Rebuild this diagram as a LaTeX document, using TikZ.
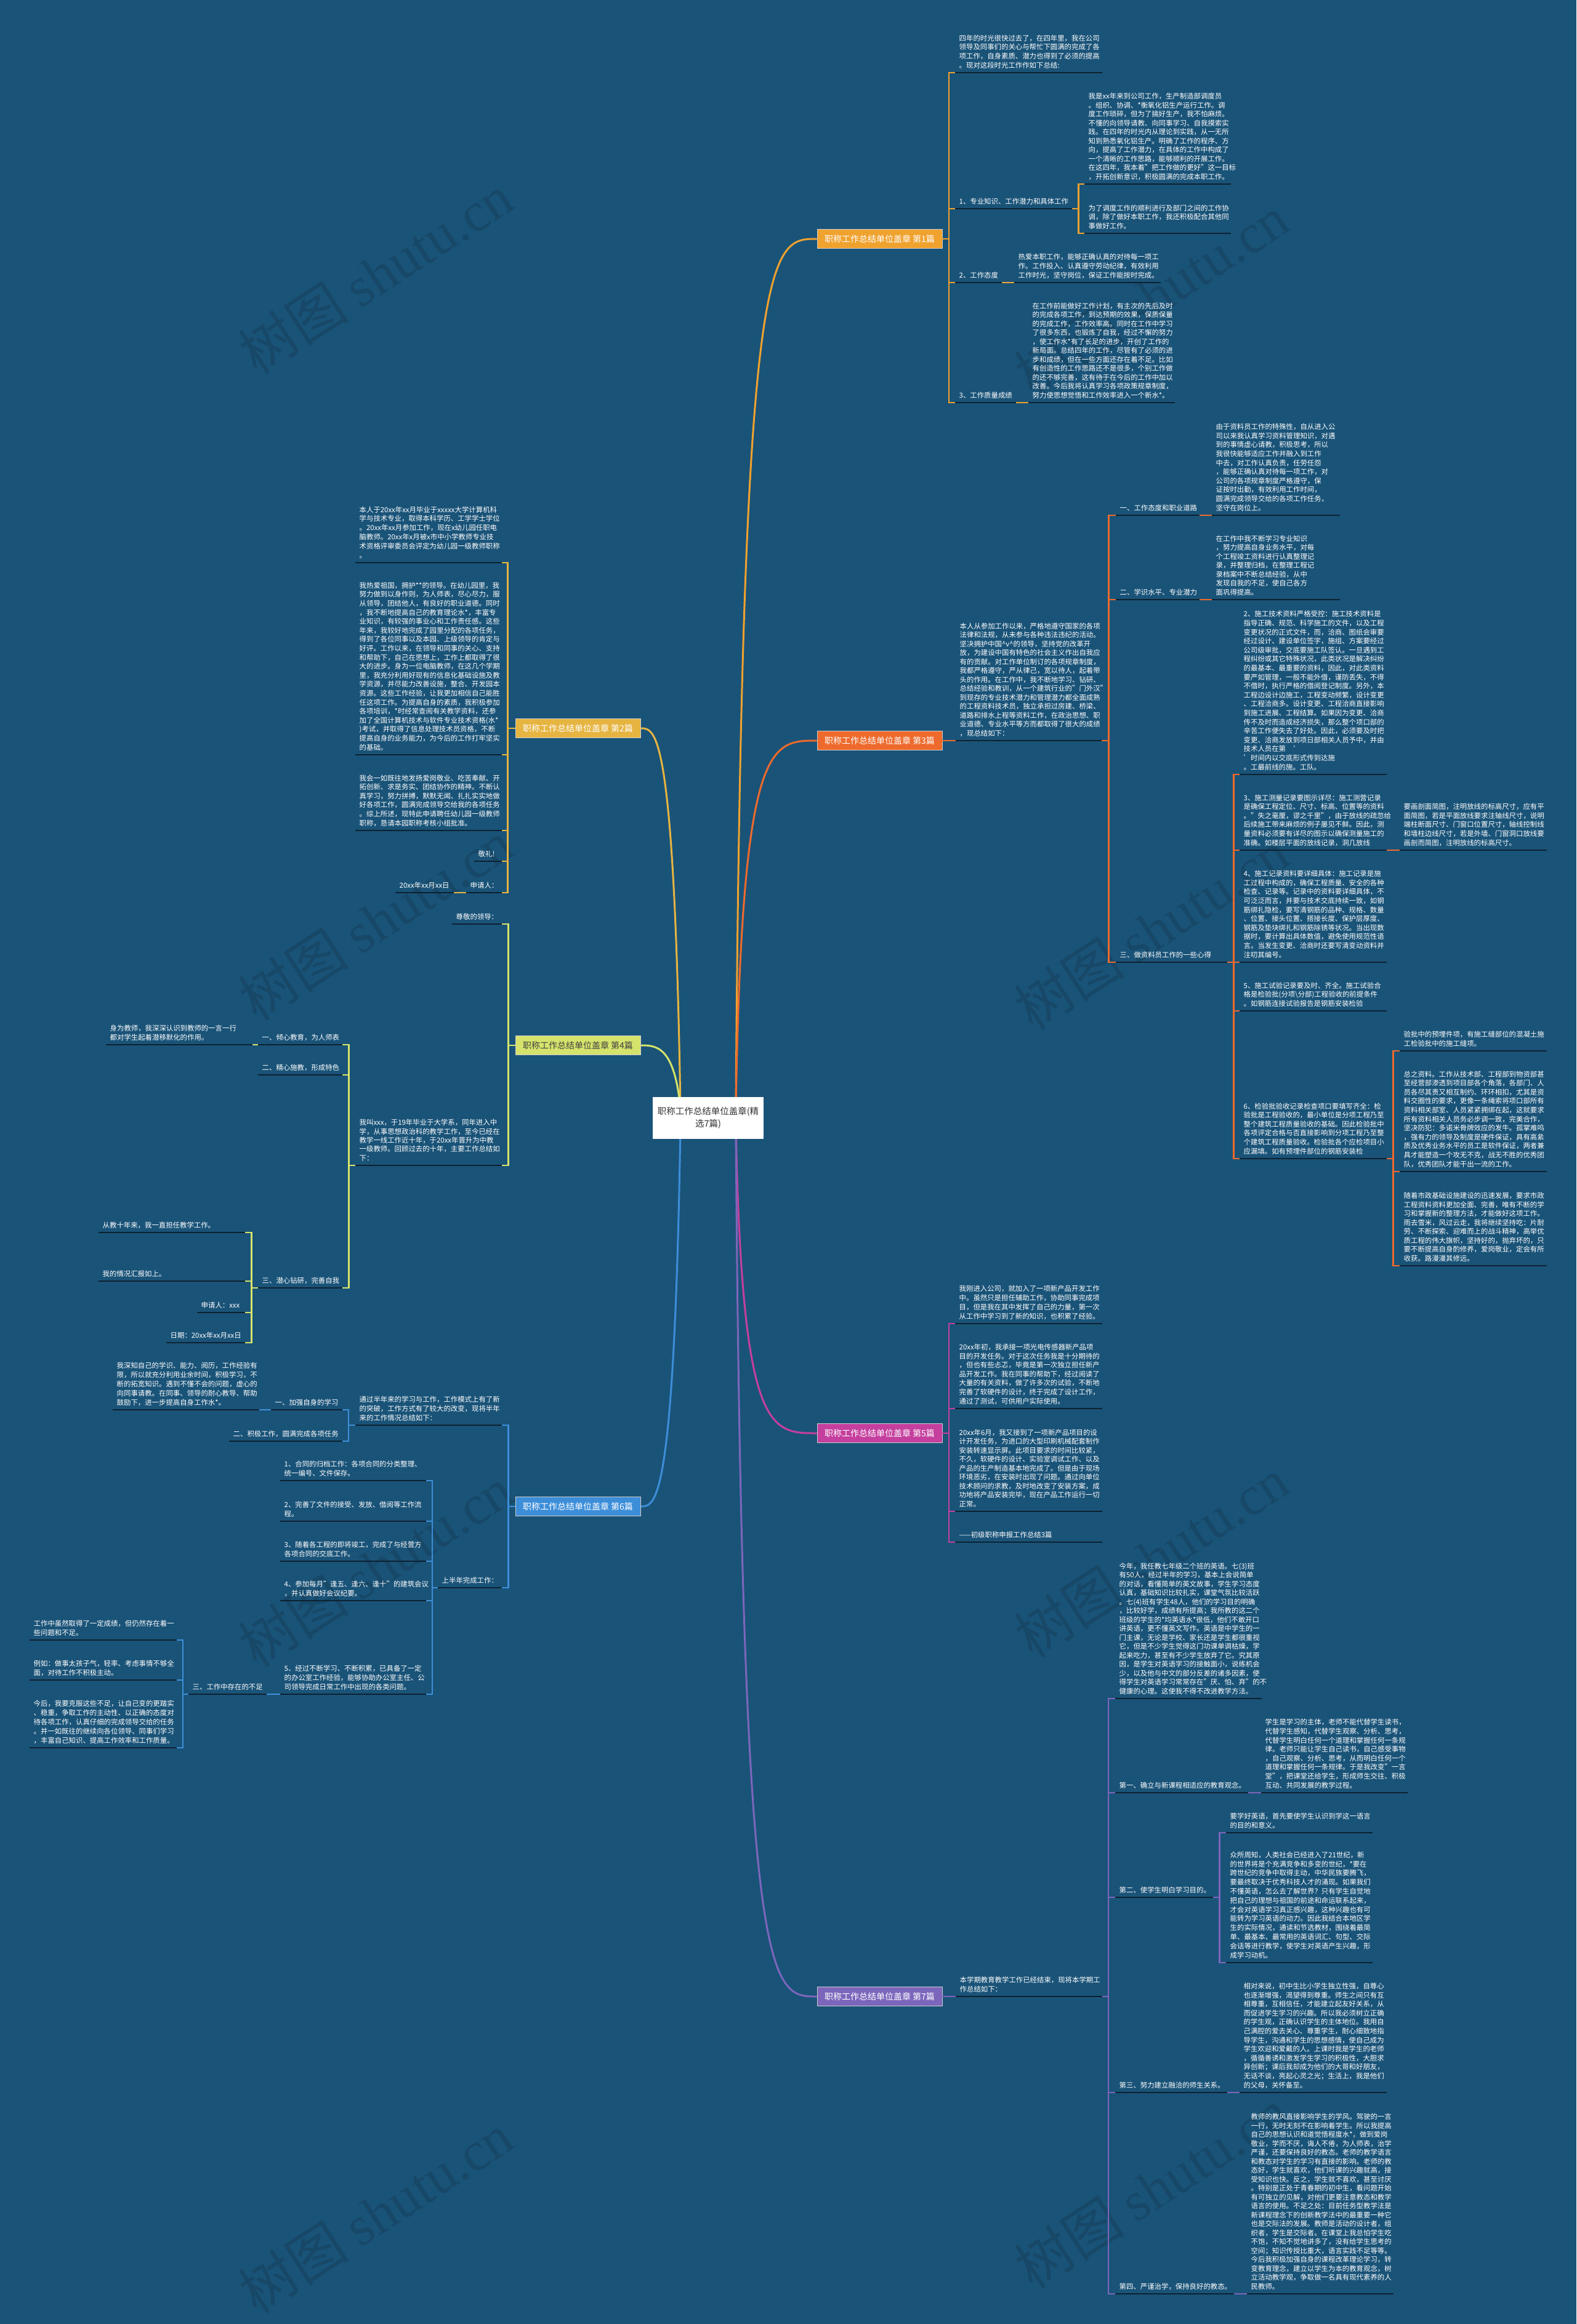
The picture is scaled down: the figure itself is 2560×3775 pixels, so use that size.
\documentclass[tikz,border=0pt]{standalone}
\usepackage{fontspec}
\setmainfont{Noto Sans CJK SC}
\newfontfamily\wmlat{Liberation Serif}
\usetikzlibrary{calc}
\definecolor{bgc}{HTML}{1A5378}
\definecolor{ulc}{HTML}{0D2231}
\definecolor{cA}{HTML}{F0A22E}
\definecolor{cB}{HTML}{E6B440}
\definecolor{cC}{HTML}{EE6A2C}
\definecolor{cD}{HTML}{D5E36C}
\definecolor{cE}{HTML}{C53F9E}
\definecolor{cF}{HTML}{3D8ED9}
\definecolor{cG}{HTML}{7C66BC}
\definecolor{wmc}{HTML}{174868}
\pgfdeclarelayer{back}
\pgfsetlayers{back,main}
\newcommand\strutU{\rule[-7.7pt]{0pt}{7.7pt}}
\newcommand\Lf[6]{%
  \pgfmathsetlengthmacro\tw{#4-13}%
  \node[leaf,text width=\tw,font=\fontsize{11.4}{#5}\selectfont] (#1) at (#2,#3) {#6\strutU};
  \draw[uline] (#1.south west) -- (#1.south east);}
\tikzset{
  leaf/.style={anchor=south west, inner xsep=6.5pt, inner ysep=0pt, align=left, text=white},
  uline/.style={draw=ulc, line width=2.2pt},
  pbox/.style={minimum width=203pt, minimum height=31pt, inner sep=0pt, font=\fontsize{14}{16}\selectfont, text=white, draw=white!80!black, line width=0.8pt},
  lA/.style={draw=cA, line width=2.6pt},
  lB/.style={draw=cB, line width=2.6pt},
  lC/.style={draw=cC, line width=2.6pt},
  lD/.style={draw=cD, line width=2.6pt},
  lE/.style={draw=cE, line width=2.6pt},
  lF/.style={draw=cF, line width=2.6pt},
  lG/.style={draw=cG, line width=2.6pt},
  wmk/.style={rotate=33, font=\fontsize{90}{90}\selectfont, text=wmc, inner sep=0pt},
}
\begin{document}
\begin{tikzpicture}[x=1pt,y=-1pt]
\useasboundingbox (0,0) rectangle (2560,3775);
\begin{pgfonlayer}{back}
\fill[bgc] (0,0) rectangle (2560,3775);
\foreach \wx/\wy in {610/445,610/1495,610/2545,610/3595,1870/480,1870/1510,1870/2530,1870/3555}
  \node[wmk] at (\wx,\wy) {树图 {\wmlat shutu.cn}};
\end{pgfonlayer}

% ===== centre =====
\node[fill=white, text=black!80, minimum width=180pt, minimum height=68pt, align=center, font=\fontsize{14.5}{20}\selectfont, inner sep=0pt] (c) at (1150,1816) {职称工作总结单位盖章(精\\选7篇)};

% ===== 第1篇 =====
\node[pbox, fill=cA] (b1) at (1428.5,388) {职称工作总结单位盖章 第1篇};
\Lf{p1a}{1551}{118}{239}{14.6}{四年的时光很快过去了，在四年里，我在公司\\领导及同事们的关心与帮忙下圆满的完成了各\\项工作，自身素质、潜力也得到了必须的提高\\。现对这段时光工作作如下总结:}
\Lf{i1}{1551}{339}{190}{14.6}{1、专业知识、工作潜力和具体工作}
\Lf{p1b}{1761}{299}{238}{14.5}{我是xx年来到公司工作，生产制造部调度员\\。组织、协调、*衡氧化铝生产运行工作。调\\度工作琐碎，但为了搞好生产，我不怕麻烦。\\不懂的向领导请教、向同事学习、自我摸索实\\践。在四年的时光内从理论到实践，从一无所\\知到熟悉氧化铝生产。明确了工作的程序、方\\向，提高了工作潜力，在具体的工作中构成了\\一个清晰的工作思路，能够顺利的开展工作。\\在这四年，我本着"把工作做的更好"这一目标\\，开拓创新意识，积极圆满的完成本职工作。}
\Lf{p1c}{1761}{379}{238}{14.5}{为了调度工作的顺利进行及部门之间的工作协\\调，除了做好本职工作，我还积极配合其他同\\事做好工作。}
\Lf{i2}{1551}{459}{76}{14.6}{2、工作态度}
\Lf{p1d}{1647}{459}{238}{15}{热爱本职工作，能够正确认真的对待每一项工\\作。工作投入、认真遵守劳动纪律，有效利用\\工作时光，坚守岗位，保证工作能按时完成。}
\Lf{i3}{1551}{654}{99}{14.6}{3、工作质量成绩}
\Lf{p1e}{1670}{654}{238}{14.5}{在工作前能做好工作计划，有主次的先后及时\\的完成各项工作，到达预期的效果，保质保量\\的完成工作，工作效率高。同时在工作中学习\\了很多东西，也锻炼了自我，经过不懈的努力\\，使工作水*有了长足的进步，开创了工作的\\新局面。总结四年的工作，尽管有了必须的进\\步和成绩，但在一些方面还存在着不足。比如\\有创造性的工作思路还不是很多，个别工作做\\的还不够完善，这有待于在今后的工作中加以\\改善。今后我将认真学习各项政策规章制度，\\努力使思想觉悟和工作效率进入一个新水*。}
\foreach \t in {p1a,i1,i2,i3} \draw[lA] (b1.east) -- ++(10.5,0) |- (\t.south west);
\foreach \t in {p1b,p1c} \draw[lA] (i1.south east) -- ++(10,0) |- (\t.south west);
\draw[lA] (i2.south east) -- (p1d.south west);
\draw[lA] (i3.south east) -- (p1e.south west);

% ===== 第3篇 =====
\node[pbox, fill=cC] (b3) at (1428.5,1203) {职称工作总结单位盖章 第3篇};
\Lf{p3}{1552}{1203}{237}{14.5}{本人从参加工作以来，严格地遵守国家的各项\\法律和法规，从未参与各种违法违纪的活动。\\坚决拥护中国\textasciicircum v\textasciicircum 的领导，坚持党的改革开\\放，为建设中国有特色的社会主义作出自我应\\有的贡献。对工作单位制订的各项规章制度，\\我都严格遵守，严从律己，宽以待人，起着带\\头的作用。在工作中，我不断地学习、钻研、\\总结经验和教训，从一个建筑行业的"门外汉"\\到现存的专业技术潜力和管理潜力都全面成熟\\的工程资料技术员，独立承担过房建、桥梁、\\道路和排水上程等资料工作，在政治思想、职\\业道德、专业水平等方而都取得了很大的成绩\\，现总结如下：}
\Lf{s31}{1812}{837}{136}{14.6}{一、工作态度和职业道路}
\Lf{p3a}{1968}{837}{208}{14.6}{由于资料员工作的特殊性，自从进入公\\司以来我认真学习资料管理知识，对遇\\到的事情虚心请教，积极思考，所以\\我很快能够适应工作并融入到工作\\中去，对工作认真负责，任劳任怨\\，能够正确认真对待每一项工作，对\\公司的各项规章制度严格遵守，保\\证按时出勤，有效利用工作时间，\\圆满完成领导交给的各项工作任务，\\坚守在岗位上。}
\Lf{s32}{1812}{974}{136}{14.6}{二、学识水平、专业潜力}
\Lf{p3b}{1968}{974}{208}{14.5}{在工作中我不断学习专业知识\\，努力提高自身业务水平，对每\\个工程竣工资料进行认真整理记\\录，并整理归档，在整理工程记\\录档案中不断总结经验，从中\\发现自我的不足，使自己各方\\面巩得提高。}
\Lf{s33}{1812}{1563}{181}{14.6}{三、做资料员工作的一些心得}
\Lf{t2}{2013}{1258}{239}{14.6}{2、施工技术资料严格受控：施工技术资料是\\指导正确、规范、科学施工的文件，以及工程\\变更状况的正式文件，而，洽商、图纸会审要\\经过设计、建设单位签字，施组、方案要经过\\公司级审批，交底要施工队签认。一旦遇到工\\程纠纷或其它特殊状况，此类状况是解决纠纷\\的最基本、最重要的资料，因此，对此类资料\\要严如管理，一般不能外借，谨防丢失，不得\\不借时，执行严格的借阅登记制度。另外，本\\工程边设计边施工，工程变动频繁，设计变更\\、工程洽商多。设计变更、工程洽商直接影响\\到施工进展、工程结算。如果因为变更、洽商\\传不及时而造成经济损失，那么整个项口部的\\辛苦工作便失去了好处。因此，必须要及时把\\变更、洽商发放到项日部相关人员予中，并由\\技术人员在第 ‘ ’时间内以交底形式传到达施\\。工最前线的施。工队。}
\Lf{t3}{2013}{1381}{239}{14.6}{3、施工测量记录要图示详尽：施工测营记录\\是确保工程定位、尺寸、标高、位置等的资料\\。"失之毫厘，谬之千里"，由于放线的疏忽给\\后续施工带来麻烦的例子屡见不鲜。因此，测\\量资料必须要有详尽的图示以确保测量施工的\\准确。如楼层平面的放线记录，洞几放线}
\Lf{t3c}{2273}{1381}{239}{14.6}{要画剖面简图，注明放线的标高尺寸，应有平\\面简图，若是平面放线要求注轴线尺寸，说明\\端柱断面尺寸、门窗口位置尺寸，轴线控制线\\和墙柱边线尺寸，若是外墙、门窗洞口放线要\\画剖而简图，注明放线的标高尺寸。}
\Lf{t4}{2013}{1563}{239}{14.6}{4、施工记录资料要详细具体：施工记录是施\\工过程中构成的，确保工程质量、安全的各种\\检查、记录等。记录中的资料要详细具体，不\\可泛泛而言，并要与技术交底持续一致，如钢\\筋绑扎隐检，要写清钢筋的品种、规格、数量\\、位置、接头位置、搭接长度、保护层厚度、\\钢筋及垫块绑扎和钢筋除锈等状况。当出现数\\据时，要计算出具体数值，避免使用规范性语\\言。当发生变更、洽商时还要写清变动资料并\\注叨其编号。}
\Lf{t5}{2013}{1642}{239}{14.5}{5、施工试验记录要及时、齐全。施工试验合\\格是检验批(分项\textbackslash 分部)工程验收的前提条件\\。如钢筋连接试验报告是钢筋安装检验}
\Lf{t6}{2013}{1882}{239}{14.6}{6、检验批验收记录检查项口要填写齐全：检\\验批是工程验收的，最小单位是分项工程乃至\\整个建筑工程质量验收的基础。因此检验批中\\各项评定合格与否直接影响到分项工程乃至整\\个建筑工程质量验收。检验批各个应检项目小\\应漏填。如有预埋件部位的钢筋安装检}
\Lf{u1}{2273}{1707}{239}{14.6}{验批中的预埋件项，有施工缝部位的混凝土施\\工检验批中的施工缝项。}
\Lf{u2}{2273}{1903}{239}{14.6}{总之资料。工作从技术部、工程部到物资部甚\\至经营部渗透到项目部各个角落，各部门、人\\员各尽其责又相互制约、环环相扣，尤其是资\\料交圈性的要求，更像一条绳索将项口部所有\\资料相关部室、人员紧紧拥绑在起，这就要求\\所有资料相关人员务必步调一致，完美合作，\\坚决防犯：多诺米骨牌效应的发牛。孤掌难呜\\，强有力的领导及制度是硬件保证，具有高絫\\质及优秀业务水平的员工是软件保证，两者兼\\具才能塑造一个攻无不克，战无不胜的优秀团\\队，优秀团队才能干出一流的工作。}
\Lf{u3}{2273}{2056}{239}{14.5}{随着市政基础设施建设的迅速发展，要求市政\\工程资料资料更加全面、完善，唯有不断的学\\习和掌握新的整理方法，才能做好这项工作。\\雨去雪米，风过云走，我将继续坚持吃：片耐\\劳、不断探索、迎难而上的战斗精神，高举优\\质工程的伟大旗帜，坚持好的，抛弃坏的，只\\要不断提高自身酌修养，爱岗敬业，定会有所\\收获。路漫漫其修远。}
\draw[lC] (b3.east) -- (p3.south west);
\foreach \t in {s31,s32,s33} \draw[lC] (p3.south east) -- ++(11,0) |- (\t.south west);
\draw[lC] (s31.south east) -- (p3a.south west);
\draw[lC] (s32.south east) -- (p3b.south west);
\foreach \t in {t2,t3,t4,t5,t6} \draw[lC] (s33.south east) -- ++(10,0) |- (\t.south west);
\draw[lC] (t3.south east) -- (t3c.south west);
\foreach \t in {u1,u2,u3} \draw[lC] (t6.south east) -- ++(10,0) |- (\t.south west);

% ===== 第5篇 =====
\node[pbox, fill=cE] (b5) at (1428.5,2328) {职称工作总结单位盖章 第5篇};
\Lf{q1}{1551}{2150}{239}{14.8}{我刚进入公司，就加入了一项新产品开发工作\\中。虽然只是担任辅助工作，协助同事完成项\\目，但是我在其中发挥了自己的力量，第一次\\从工作中学习到了新的知识，也积累了经验。}
\Lf{q2}{1551}{2288}{239}{14.6}{20xx年初，我承接一项光电传感器新产品项\\目的开发任务。对于这次任务我是十分期待的\\，但也有些忐忑，毕竟是第一次独立担任新产\\品开发工作。我在同事的帮助下，经过阅读了\\大量的有关资料，做了许多次的试验，不断地\\完善了软硬件的设计，终于完成了设计工作，\\通过了测试，可供用户实际使用。}
\Lf{q3}{1551}{2455}{239}{14.5}{20xx年6月，我又接到了一项新产品项目的设\\计开发任务，为进口的大型印刷机械配套制作\\安装转速显示屏。此项目要求的时间比较紧，\\不久，软硬件的设计、实验室调试工作、以及\\产品的生产制造基本地完成了。但是由于现场\\环境恶劣，在安装时出现了问题。通过向单位\\技术顾问的求教，及时地改变了安装方案，成\\功地将产品安装完毕，现在产品工作运行一切\\正常。}
\Lf{q4}{1551}{2505}{239}{14.6}{——初级职称申报工作总结3篇}
\foreach \t in {q1,q2,q3,q4} \draw[lE] (b5.east) -- ++(10.5,0) |- (\t.south west);

% ===== 第7篇 =====
\node[pbox, fill=cG] (b7) at (1428.5,3243) {职称工作总结单位盖章 第7篇};
\Lf{r0}{1552}{3243}{238}{14.6}{本学期教育教学工作已经结束，现将本学期工\\作总结如下：}
\Lf{r1}{1811}{2759}{238}{14.5}{今年，我任教七年级二个班的英语。七(3)班\\有50人，经过半年的学习，基本上会说简单\\的对话，看懂简单的英文故事，学生学习态度\\认真，基础知识比较扎实，课堂气氛比较活跃\\。七(4)班有学生48人，他们的学习目的明确\\，比较好学，成绩有所提高；我所教的这二个\\班级的学生的*均英语水*很低，他们不敢开口\\讲英语，更不懂英文写作。英语是中学生的一\\门主课，无论是学校、家长还是学生都很重视\\它，但是不少学生觉得这门功课单调枯燥，学\\起来吃力，甚至有不少学生放弃了它。究其原\\因，是学生对英语学习的接触面小，说练机会\\少，以及他与中文的部分反差的诸多因素，使\\得学生对英语学习常常存在"厌、怕、弃"的不\\健康的心理。这使我不得不改进教学方法。}
\Lf{r2}{1811}{2912}{216}{14.6}{第一、确立与新课程相适应的教育观念。}
\Lf{r2c}{2048}{2912}{238}{14.6}{学生是学习的主体，老师不能代替学生读书，\\代替学生感知，代替学生观察、分析、思考，\\代替学生明白任何一个道理和掌握任何一条规\\律。老师只能让学生自己读书，自己感受事物\\，自己观察、分析、思考，从而明白任何一个\\道理和掌握任何一条规律。于是我改变"一言\\堂"，把课堂还给学生，形成师生交往、积极\\互动、共同发展的教学过程。}
\Lf{r3}{1811}{3082}{159}{14.6}{第二、使学生明白学习目的。}
\Lf{r3a}{1991}{2977}{238}{14.6}{要学好英语，首先要使学生认识到学这一语言\\的目的和意义。}
\Lf{r3b}{1991}{3188}{238}{14.8}{众所周知，人类社会已经进入了21世纪，新\\的世界将是个充满竞争和多变的世纪，*要在\\跨世纪的竞争中取得主动，中华民族要腾飞，\\要最终取决于优秀科技人才的涌现。如果我们\\不懂英语，怎么去了解世界？只有学生自觉地\\把自己的理想与祖国的前途和命运联系起来，\\才会对英语学习真正感兴趣，这种兴趣也有可\\能转为学习英语的动力。因此我结合本地区学\\生的实际情况，通读和节选教材，围绕着最简\\单、最基本、最常用的英语词汇、句型、交际\\会话等进行教学，使学生对英语产生兴趣，形\\成学习动机。}
\Lf{r4}{1811}{3399}{182}{14.6}{第三、努力建立融洽的师生关系。}
\Lf{r4c}{2013}{3399}{239}{14.6}{相对来说，初中生比小学生独立性强，自尊心\\也逐渐增强，渴望得到尊重。师生之间只有互\\相尊重，互相信任，才能建立起友好关系，从\\而促进学生学习的兴趣。所以我必须树立正确\\的学生观，正确认识学生的主体地位。我用自\\己满腔的爱去关心、尊重学生，耐心细致地指\\导学生，沟通和学生的思想感情，使自己成为\\学生欢迎和爱戴的人。上课时我是学生的老师\\，循循善诱和激发学生学习的积极性，大胆求\\异创新；课后我却成为他们的大哥和好朋友，\\无话不谈，亮起心灵之光；生活上，我是他们\\的父母，关怀备至。}
\Lf{r5}{1811}{3726}{193}{14.6}{第四、严谨治学，保持良好的教态。}
\Lf{r5c}{2025}{3726}{238}{14.5}{教师的教风直接影响学生的学风。驾驶的一言\\一行，无时无刻不在影响着学生。所以我提高\\自己的思想认识和道觉悟程度水*，做到爱岗\\敬业，学而不厌，诲人不倦，为人师表，治学\\严谨，还要保持良好的教态。老师的教学语言\\和教态对学生的学习有直接的影响。老师的教\\态好，学生就喜欢，他们听课的兴趣就高，接\\受知识也快。反之，学生就不喜欢，甚至讨厌\\。特别是正处于青春期的初中生，看问题开始\\有可独立的见解，对他们更要注意教态和教学\\语言的使用。不足之处：目前任务型教学法是\\新课程理念下的创新教学法中的最重要一种它\\也是交际法的发展。教师是活动的设计者，组\\织者，学生是交际者。在课堂上我总怕学生吃\\不饱，不知不觉地讲多了，没有给学生思考的\\空间；知识传授比重大，语言实践不足等等。\\今后我积极加强自身的课程改革理论学习，转\\变教育理念，建立以学生为本的教育观念，树\\立活动教学观，争取做一名具有现代素养的人\\民教师。}
\draw[lG] (b7.east) -- (r0.south west);
\foreach \t in {r1,r2,r3,r4,r5} \draw[lG] (r0.south east) -- ++(9.5,0) |- (\t.south west);
\draw[lG] (r2.south east) -- (r2c.south west);
\foreach \t in {r3a,r3b} \draw[lG] (r3.south east) -- ++(10,0) |- (\t.south west);
\draw[lG] (r4.south east) -- (r4c.south west);
\draw[lG] (r5.south east) -- (r5c.south west);

% ===== 第2篇 =====
\node[pbox, fill=cB] (b2) at (938.5,1183) {职称工作总结单位盖章 第2篇};
\Lf{m1}{577}{914}{238}{14.8}{本人于20xx年xx月毕业于xxxxx大学计算机科\\学与技术专业，取得本科学历、工学学士学位\\。20xx年xx月参加工作，现在x幼儿园任职电\\脑教师。20xx年x月被x市中小学教师专业技\\术资格评审委员会评定为幼儿园一级教师职称\\。}
\Lf{m2}{577}{1226}{238}{14.6}{我热爱祖国，拥护**的领导。在幼儿园里，我\\努力做到以身作则，为人师表，尽心尽力，服\\从领导，团结他人，有良好的职业道德。同时\\，我不断地提高自己的教育理论水*，丰富专\\业知识，有较强的事业心和工作责任感。这些\\年来，我较好地完成了园里分配的各项任务，\\得到了各位同事以及本园、上级领导的肯定与\\好评。工作以来，在领导和同事的关心、支持\\和帮助下，自己在思想上，工作上都取得了很\\大的进步。身为一位电脑教师，在这几个学期\\里，我充分利用好现有的信息化基础设施及教\\学资源，并尽能力改善设施，整合、开发园本\\资源。这些工作经验，让我更加相信自己能胜\\任这项工作。为提高自身的素质，我积极参加\\各项培训，*时经常查阅有关教学资料，还参\\加了全国计算机技术与软件专业技术资格(水*\\)考试，并取得了信息处理技术员资格，不断\\提高自身的业务能力，为今后的工作打牢坚实\\的基础。}
\Lf{m3}{577}{1349}{238}{14.6}{我会一如既往地发扬爱岗敬业、吃苦奉献、开\\拓创新、求是务实、团结协作的精神。不断认\\真学习，努力拼搏，默默无闻、扎扎实实地做\\好各项工作，圆满完成领导交给我的各项任务\\。综上所述，现特此申请聘任幼儿园一级教师\\职称，恳请本园职称考核小组批准。}
\Lf{m4}{770}{1399}{45}{14.6}{敬礼!}
\Lf{m5}{757}{1450}{58}{14.6}{申请人：}
\Lf{m6}{642}{1450}{95}{14.6}{20xx年xx月xx日}
\foreach \t in {m1,m2,m3,m4,m5} \draw[lB] (b2.west) -- ++(-12,0) |- (\t.south east);
\draw[lB] (m5.south west) -- (m6.south east);

% ===== 第4篇 =====
\node[pbox, fill=cD, text=black!75] (b4) at (938.5,1698) {职称工作总结单位盖章 第4篇};
\Lf{n1}{734}{1501}{81}{14.6}{尊敬的领导：}
\Lf{n2}{577}{1893}{238}{14.3}{我叫xxx，于19年毕业于大学系，同年进入中\\学，从事思想政治科的教学工作，至今已经在\\教学一线工作近十年，于20xx年晋升为中教\\一级教师。回顾过去的十年，主要工作总结如\\下：}
\Lf{n3}{419}{1697}{137}{14.6}{一、倾心教育，为人师表}
\Lf{n4}{419}{1746}{137}{14.6}{二、精心施教，形成特色}
\Lf{n5}{419}{2092}{137}{14.6}{三、潜心钻研，完善自我}
\Lf{n6}{172}{1697}{238}{14.6}{身为教师，我深深认识到教师的一言一行\\都对学生起着潜移默化的作用。}
\Lf{n7}{160}{2002}{238}{14.6}{从教十年来，我一直担任教学工作。}
\Lf{n8}{160}{2081}{238}{14.6}{我的情况汇报如上。}
\Lf{n9}{320}{2132}{78}{14.6}{申请人：xxx}
\Lf{n10}{270}{2181}{128}{14.6}{日期：20xx年xx月xx日}
\foreach \t in {n1,n2} \draw[lD] (b4.west) -- ++(-11,0) |- (\t.south east);
\foreach \t in {n3,n4,n5} \draw[lD] (n2.south west) -- ++(-10.5,0) |- (\t.south east);
\draw[lD] (n3.south west) -- (n6.south east);
\foreach \t in {n7,n8,n9,n10} \draw[lD] (n5.south west) -- ++(-10.5,0) |- (\t.south east);

% ===== 第6篇 =====
\node[pbox, fill=cF] (b6) at (938.5,2447) {职称工作总结单位盖章 第6篇};
\Lf{o1}{577}{2315}{238}{14.8}{通过半年来的学习与工作，工作模式上有了新\\的突破，工作方式有了较大的改变，现将半年\\来的工作情况总结如下：}
\Lf{o2}{711}{2579}{104}{14.6}{上半年完成工作：}
\Lf{o3}{440}{2290}{116}{14.6}{一、加强自身的学习}
\Lf{o4}{372}{2341}{184}{14.6}{二、积极工作，圆满完成各项任务}
\Lf{o5}{183}{2290}{238}{14.8}{我深知自己的学识、能力、阅历，工作经验有\\限，所以就充分利用业余时间，积极学习，不\\断的拓宽知识。遇到不懂不会的问题，虚心的\\向同事请教。在同事、领导的耐心教导、帮助\\鼓励下，进一步提高自身工作水*。}
\Lf{o6}{455}{2405}{237}{14.6}{1、合同的归档工作：各项合同的分类整理、\\统一编号、文件保存。}
\Lf{o7}{455}{2471}{237}{14.6}{2、完善了文件的接受、发放、借阅等工作流\\程。}
\Lf{o8}{455}{2536}{237}{14.6}{3、随着各工程的即将竣工，完成了与经营方\\各项合同的交底工作。}
\Lf{o9}{455}{2600}{237}{14.6}{4、参加每月"逢五、逢六、逢十"的建筑会议\\，并认真做好会议纪要。}
\Lf{o10}{455}{2752}{237}{14.6}{5、经过不断学习、不断积累，已具备了一定\\的办公室工作经验，能够协助办公室主任、公\\司领导完成日常工作中出现的各类问题。}
\Lf{o11}{306}{2752}{127}{14.6}{三、工作中存在的不足}
\Lf{o12}{48}{2664}{239}{15}{工作中虽然取得了一定成绩，但仍然存在着一\\些问题和不足。}
\Lf{o13}{48}{2729}{239}{15}{例如：做事太孩子气，轻率、考虑事情不够全\\面，对待工作不积极主动。}
\Lf{o14}{48}{2839}{239}{15}{今后，我要克服这些不足，让自己变的更踏实\\、稳重，争取工作的主动性、以正确的态度对\\待各项工作，认真仔细的完成领导交给的任务\\。并一如既往的继续向各位领导、同事们学习\\，丰富自己知识、提高工作效率和工作质量。}
\foreach \t in {o1,o2} \draw[lF] (b6.west) -- ++(-11,0) |- (\t.south east);
\foreach \t in {o3,o4} \draw[lF] (o1.south west) -- ++(-11,0) |- (\t.south east);
\draw[lF] (o3.south west) -- (o5.south east);
\foreach \t in {o6,o7,o8,o9,o10} \draw[lF] (o2.south west) -- ++(-9,0) |- (\t.south east);
\draw[lF] (o10.south west) -- (o11.south east);
\foreach \t in {o12,o13,o14} \draw[lF] (o11.south west) -- ++(-9,0) |- (\t.south east);

% ===== main curves =====
\begin{pgfonlayer}{back}
\draw[cA, line width=3pt] (1195,1800) .. controls (1205,388) and (1250,388) .. (b1.west);
\draw[cC, line width=3pt] (1195,1800) .. controls (1205,1203) and (1250,1203) .. (b3.west);
\draw[cE, line width=3pt] (1195,1830) .. controls (1205,2328) and (1250,2328) .. (b5.west);
\draw[cG, line width=3pt] (1195,1830) .. controls (1205,3243) and (1250,3243) .. (b7.west);
\draw[cB, line width=3pt] (1105,1800) .. controls (1095,1183) and (1065,1183) .. (b2.east);
\draw[cD, line width=3pt] (1105,1800) .. controls (1095,1698) and (1065,1698) .. (b4.east);
\draw[cF, line width=3pt] (1105,1830) .. controls (1095,2447) and (1065,2447) .. (b6.east);
\end{pgfonlayer}
\end{tikzpicture}
\end{document}
